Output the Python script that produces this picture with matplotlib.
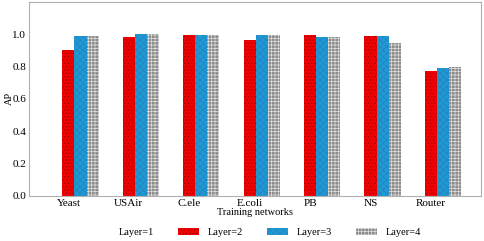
import numpy as np
import matplotlib.pyplot as plt

plt.rcParams['font.family'] = ['Liberation Serif', 'DejaVu Serif']
plt.rcParams['hatch.linewidth'] = 0.5

# 数据
networks = ['Yeast', 'USAir', 'C.ele', 'E.coli', 'PB', 'NS', 'Router']
layer1 = [0.0, 0.0, 0.0, 0.0, 0.0, 0.0, 0.0]
layer2 = [0.905, 0.984, 0.998, 0.965, 0.994, 0.990, 0.775]
layer3 = [0.990, 1.000, 0.995, 0.994, 0.986, 0.990, 0.794]
layer4 = [0.990, 1.000, 0.995, 0.993, 0.985, 0.948, 0.800]

series = [('Layer=1', layer1, 'white', 'white', None),
          ('Layer=2', layer2, '#f00000', '#a00000', '.....'),
          ('Layer=3', layer3, '#1a9bd7', '#2f7fb8', 'xxxxx'),
          ('Layer=4', layer4, '#8c8c8c', '#e0e0e0', '+++++')]

fig = plt.figure(figsize=(4.85, 2.41), dpi=100)
ax = fig.add_axes([0.060, 0.187, 0.932, 0.805])

x = np.arange(len(networks))
w = 0.2
for k, (name, vals, fc, hc, hatch) in enumerate(series):
    ax.bar(x + (k - 1) * w, vals, w, color=fc, edgecolor=hc, hatch=hatch,
           linewidth=0, label=name)

ax.set_xlim(-0.65, 6.83)
ax.set_ylim(0, 1.2)
ax.set_yticks([0.0, 0.2, 0.4, 0.6, 0.8, 1.0])
ax.set_yticklabels(['0.0', '0.2', '0.4', '0.6', '0.8', '1.0'])
ax.set_xticks(x)
ax.set_xticklabels(networks)
ax.tick_params(length=0, labelsize=8, pad=2)
ax.set_xlabel('Training networks', fontsize=7.5, labelpad=0)
ax.set_ylabel('AP', fontsize=7.5, labelpad=-1)
for s in ax.spines.values():
    s.set_color('#b0b0b0')
    s.set_linewidth(0.8)

ax.legend(loc='center', bbox_to_anchor=(0.5, -0.19), ncol=4, frameon=False,
          fontsize=7.5, handlelength=2.0, handleheight=0.7,
          handletextpad=0.85, columnspacing=2.3)

fig.savefig('out.png', dpi=100)
